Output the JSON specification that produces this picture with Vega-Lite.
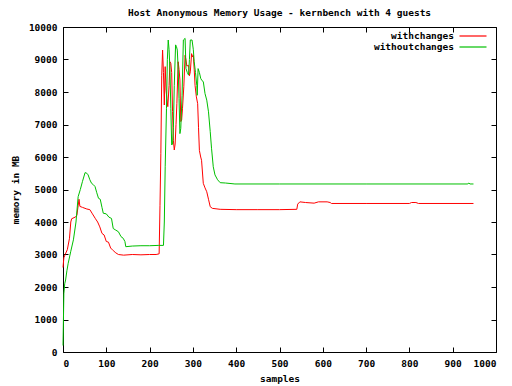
{
  "$schema": "https://vega.github.io/schema/vega-lite/v6.json",
  "autosize": {"type": "none"},
  "width": 433,
  "height": 325,
  "padding": {"left": 63, "top": 27, "right": 16, "bottom": 34},
  "background": "white",
  "title": {"text": "Host Anonymous Memory Usage - kernbench with 4 guests", "font": "DejaVu Sans Mono", "fontSize": 9.5, "fontWeight": "bold", "color": "black", "anchor": "middle", "offset": 5},
  "datasets": {
    "mem": [
      {"s":"withchanges","x":0,"y":2600},{"s":"withchanges","x":2,"y":2900},{"s":"withchanges","x":5,"y":3000},{"s":"withchanges","x":10,"y":3150},{"s":"withchanges","x":15,"y":3500},{"s":"withchanges","x":18,"y":4000},{"s":"withchanges","x":20,"y":4100},{"s":"withchanges","x":28,"y":4150},{"s":"withchanges","x":32,"y":4200},{"s":"withchanges","x":35,"y":4500},{"s":"withchanges","x":37,"y":4700},{"s":"withchanges","x":39,"y":4480},{"s":"withchanges","x":45,"y":4450},{"s":"withchanges","x":55,"y":4400},{"s":"withchanges","x":62,"y":4380},{"s":"withchanges","x":68,"y":4250},{"s":"withchanges","x":75,"y":4100},{"s":"withchanges","x":80,"y":4000},{"s":"withchanges","x":85,"y":3850},{"s":"withchanges","x":90,"y":3650},{"s":"withchanges","x":95,"y":3600},{"s":"withchanges","x":100,"y":3400},{"s":"withchanges","x":105,"y":3380},{"s":"withchanges","x":110,"y":3200},{"s":"withchanges","x":116,"y":3120},{"s":"withchanges","x":122,"y":3050},{"s":"withchanges","x":128,"y":3000},{"s":"withchanges","x":140,"y":2980},{"s":"withchanges","x":160,"y":3000},{"s":"withchanges","x":180,"y":2990},{"s":"withchanges","x":200,"y":3000},{"s":"withchanges","x":215,"y":3000},{"s":"withchanges","x":222,"y":3020},{"s":"withchanges","x":224,"y":4500},{"s":"withchanges","x":226,"y":6100},{"s":"withchanges","x":228,"y":8500},{"s":"withchanges","x":230,"y":9290},{"s":"withchanges","x":232,"y":8600},{"s":"withchanges","x":234,"y":7600},{"s":"withchanges","x":236,"y":8780},{"s":"withchanges","x":238,"y":8060},{"s":"withchanges","x":240,"y":7800},{"s":"withchanges","x":242,"y":7550},{"s":"withchanges","x":245,"y":8200},{"s":"withchanges","x":247,"y":8930},{"s":"withchanges","x":249,"y":8880},{"s":"withchanges","x":251,"y":8600},{"s":"withchanges","x":253,"y":7400},{"s":"withchanges","x":255,"y":6500},{"s":"withchanges","x":257,"y":6215},{"s":"withchanges","x":259,"y":6400},{"s":"withchanges","x":261,"y":7000},{"s":"withchanges","x":263,"y":7650},{"s":"withchanges","x":266,"y":8930},{"s":"withchanges","x":268,"y":8700},{"s":"withchanges","x":270,"y":8370},{"s":"withchanges","x":272,"y":7090},{"s":"withchanges","x":274,"y":7140},{"s":"withchanges","x":276,"y":7500},{"s":"withchanges","x":279,"y":8160},{"s":"withchanges","x":282,"y":9130},{"s":"withchanges","x":284,"y":8985},{"s":"withchanges","x":286,"y":8800},{"s":"withchanges","x":290,"y":8820},{"s":"withchanges","x":292,"y":8500},{"s":"withchanges","x":294,"y":8620},{"s":"withchanges","x":297,"y":9180},{"s":"withchanges","x":299,"y":9080},{"s":"withchanges","x":301,"y":9130},{"s":"withchanges","x":303,"y":8700},{"s":"withchanges","x":305,"y":8200},{"s":"withchanges","x":308,"y":7850},{"s":"withchanges","x":311,"y":7640},{"s":"withchanges","x":313,"y":6900},{"s":"withchanges","x":315,"y":6200},{"s":"withchanges","x":318,"y":6000},{"s":"withchanges","x":320,"y":5900},{"s":"withchanges","x":324,"y":5190},{"s":"withchanges","x":328,"y":5050},{"s":"withchanges","x":332,"y":4930},{"s":"withchanges","x":336,"y":4700},{"s":"withchanges","x":340,"y":4470},{"s":"withchanges","x":345,"y":4420},{"s":"withchanges","x":363,"y":4390},{"s":"withchanges","x":400,"y":4380},{"s":"withchanges","x":450,"y":4380},{"s":"withchanges","x":500,"y":4380},{"s":"withchanges","x":540,"y":4390},{"s":"withchanges","x":542,"y":4550},{"s":"withchanges","x":547,"y":4620},{"s":"withchanges","x":560,"y":4600},{"s":"withchanges","x":580,"y":4580},{"s":"withchanges","x":590,"y":4620},{"s":"withchanges","x":610,"y":4620},{"s":"withchanges","x":617,"y":4600},{"s":"withchanges","x":620,"y":4570},{"s":"withchanges","x":700,"y":4570},{"s":"withchanges","x":800,"y":4570},{"s":"withchanges","x":805,"y":4600},{"s":"withchanges","x":815,"y":4600},{"s":"withchanges","x":821,"y":4570},{"s":"withchanges","x":948,"y":4570},
      {"s":"withoutchanges","x":0,"y":200},{"s":"withoutchanges","x":2,"y":1800},{"s":"withoutchanges","x":4,"y":2100},{"s":"withoutchanges","x":6,"y":2215},{"s":"withoutchanges","x":9,"y":2500},{"s":"withoutchanges","x":12,"y":2730},{"s":"withoutchanges","x":18,"y":3100},{"s":"withoutchanges","x":24,"y":3450},{"s":"withoutchanges","x":30,"y":4000},{"s":"withoutchanges","x":35,"y":4780},{"s":"withoutchanges","x":40,"y":5000},{"s":"withoutchanges","x":45,"y":5250},{"s":"withoutchanges","x":51,"y":5520},{"s":"withoutchanges","x":55,"y":5500},{"s":"withoutchanges","x":58,"y":5450},{"s":"withoutchanges","x":62,"y":5300},{"s":"withoutchanges","x":66,"y":5190},{"s":"withoutchanges","x":70,"y":5150},{"s":"withoutchanges","x":74,"y":5090},{"s":"withoutchanges","x":78,"y":4900},{"s":"withoutchanges","x":82,"y":4730},{"s":"withoutchanges","x":86,"y":4700},{"s":"withoutchanges","x":90,"y":4450},{"s":"withoutchanges","x":93,"y":4270},{"s":"withoutchanges","x":100,"y":4250},{"s":"withoutchanges","x":106,"y":4150},{"s":"withoutchanges","x":112,"y":4110},{"s":"withoutchanges","x":116,"y":3800},{"s":"withoutchanges","x":122,"y":3750},{"s":"withoutchanges","x":128,"y":3700},{"s":"withoutchanges","x":134,"y":3550},{"s":"withoutchanges","x":139,"y":3500},{"s":"withoutchanges","x":143,"y":3400},{"s":"withoutchanges","x":145,"y":3240},{"s":"withoutchanges","x":160,"y":3260},{"s":"withoutchanges","x":180,"y":3270},{"s":"withoutchanges","x":200,"y":3270},{"s":"withoutchanges","x":220,"y":3280},{"s":"withoutchanges","x":232,"y":3280},{"s":"withoutchanges","x":234,"y":4000},{"s":"withoutchanges","x":236,"y":5700},{"s":"withoutchanges","x":239,"y":7500},{"s":"withoutchanges","x":241,"y":9000},{"s":"withoutchanges","x":243,"y":9600},{"s":"withoutchanges","x":245,"y":9300},{"s":"withoutchanges","x":247,"y":8700},{"s":"withoutchanges","x":249,"y":7500},{"s":"withoutchanges","x":251,"y":6370},{"s":"withoutchanges","x":253,"y":6400},{"s":"withoutchanges","x":255,"y":6900},{"s":"withoutchanges","x":257,"y":8200},{"s":"withoutchanges","x":260,"y":9450},{"s":"withoutchanges","x":262,"y":9400},{"s":"withoutchanges","x":264,"y":9290},{"s":"withoutchanges","x":266,"y":8700},{"s":"withoutchanges","x":268,"y":7800},{"s":"withoutchanges","x":270,"y":6720},{"s":"withoutchanges","x":272,"y":6880},{"s":"withoutchanges","x":275,"y":7900},{"s":"withoutchanges","x":278,"y":9600},{"s":"withoutchanges","x":282,"y":9650},{"s":"withoutchanges","x":284,"y":8720},{"s":"withoutchanges","x":287,"y":8600},{"s":"withoutchanges","x":290,"y":8520},{"s":"withoutchanges","x":292,"y":9000},{"s":"withoutchanges","x":294,"y":9600},{"s":"withoutchanges","x":298,"y":9600},{"s":"withoutchanges","x":301,"y":9300},{"s":"withoutchanges","x":303,"y":8930},{"s":"withoutchanges","x":306,"y":8600},{"s":"withoutchanges","x":309,"y":8200},{"s":"withoutchanges","x":310,"y":7900},{"s":"withoutchanges","x":312,"y":8720},{"s":"withoutchanges","x":315,"y":8600},{"s":"withoutchanges","x":318,"y":8420},{"s":"withoutchanges","x":321,"y":8350},{"s":"withoutchanges","x":324,"y":8320},{"s":"withoutchanges","x":328,"y":7950},{"s":"withoutchanges","x":332,"y":7750},{"s":"withoutchanges","x":336,"y":7390},{"s":"withoutchanges","x":340,"y":6780},{"s":"withoutchanges","x":343,"y":6270},{"s":"withoutchanges","x":347,"y":5700},{"s":"withoutchanges","x":351,"y":5450},{"s":"withoutchanges","x":357,"y":5300},{"s":"withoutchanges","x":363,"y":5210},{"s":"withoutchanges","x":375,"y":5200},{"s":"withoutchanges","x":397,"y":5170},{"s":"withoutchanges","x":500,"y":5170},{"s":"withoutchanges","x":700,"y":5170},{"s":"withoutchanges","x":935,"y":5170},{"s":"withoutchanges","x":937,"y":5200},{"s":"withoutchanges","x":940,"y":5170},{"s":"withoutchanges","x":948,"y":5170}
    ],
    "corner": [{"x": 0, "y": 0}]
  },
  "layer": [
    {
      "data": {"name": "mem"},
      "mark": {"type": "line", "strokeWidth": 1, "interpolate": "linear"},
      "encoding": {
        "x": {"field": "x", "type": "quantitative", "scale": {"domain": [0, 1000], "nice": false, "zero": false},
              "axis": {"title": "samples", "format": "d", "values": [0,100,200,300,400,500,600,700,800,900,1000], "orient": "bottom"}},
        "y": {"field": "y", "type": "quantitative", "scale": {"domain": [0, 10000], "nice": false},
              "axis": {"title": "memory in MB", "format": "d", "values": [0,1000,2000,3000,4000,5000,6000,7000,8000,9000,10000], "orient": "left"}},
        "color": {"field": "s", "type": "nominal", "scale": {"domain": ["withchanges", "withoutchanges"], "range": ["#ff0000", "#00c000"]},
                  "legend": {"title": null, "orient": "none", "legendX": 404, "legendY": 3, "symbolType": "M-2.7,0H2.7", "symbolSize": 100, "symbolStrokeWidth": 1.2, "labelAlign": "right", "labelOffset": -25, "rowPadding": 0}}
      }
    },
    {
      "data": {"name": "corner"},
      "mark": {"type": "point", "opacity": 0},
      "encoding": {
        "x": {"field": "x", "type": "quantitative", "axis": {"orient": "top", "labels": false, "title": null, "values": [0,100,200,300,400,500,600,700,800,900,1000]}},
        "y": {"field": "y", "type": "quantitative", "axis": {"orient": "right", "labels": false, "title": null, "values": [0,1000,2000,3000,4000,5000,6000,7000,8000,9000,10000]}}
      }
    }
  ],
  "resolve": {"axis": {"x": "independent", "y": "independent"}},
  "config": {
    "view": {"stroke": "black", "strokeWidth": 1},
    "font": "DejaVu Sans Mono",
    "axis": {
      "grid": false,
      "domain": false,
      "tickColor": "black",
      "tickSize": -5,
      "labelPadding": 11,
      "labelFont": "DejaVu Sans Mono",
      "labelFontSize": 9.5,
      "labelFontWeight": "bold",
      "labelColor": "black",
      "titleFont": "DejaVu Sans Mono",
      "titleFontSize": 9.5,
      "titleFontWeight": "bold",
      "titleColor": "black"
    },
    "axisX": {"titlePadding": 6},
    "axisY": {"titlePadding": 8},
    "legend": {"labelFont": "DejaVu Sans Mono", "labelFontSize": 9.5, "labelFontWeight": "bold", "labelColor": "black"}
  }
}
